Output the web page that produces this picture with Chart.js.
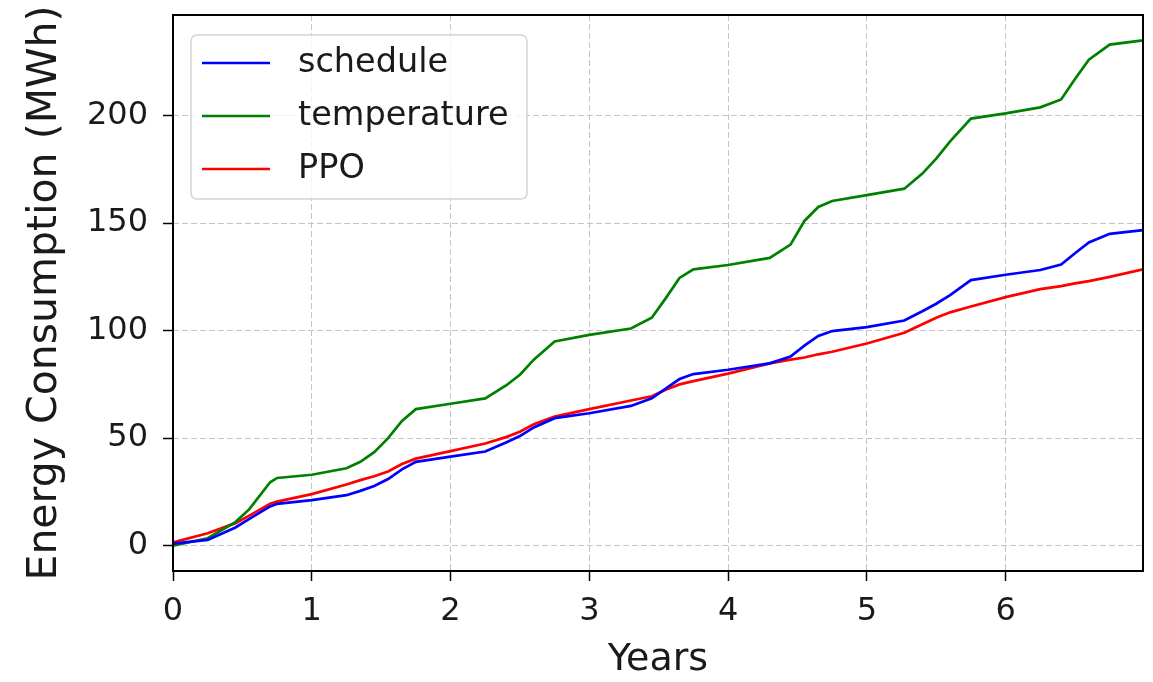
<!DOCTYPE html>
<html>
<head>
<meta charset="utf-8">
<script src="https://cdn.jsdelivr.net/npm/chart.js@4.4.1/dist/chart.umd.min.js"></script>
<style>
  html, body { margin: 0; padding: 0; background: #fff; }
  #energyChart { display: block; }
</style>
</head>
<body>
<canvas id="energyChart" width="1153" height="682"></canvas>
<script>
// years since start (x values shared by all three runs)
const years = [0, 0.25, 0.45, 0.55, 0.7, 0.75,
  1.0, 1.25, 1.35, 1.45, 1.55, 1.65, 1.75,
  2.0, 2.25, 2.4, 2.5, 2.6, 2.75,
  3.0, 3.3, 3.45, 3.55, 3.65, 3.75,
  4.0, 4.3, 4.45, 4.55, 4.65, 4.75,
  5.0, 5.27, 5.4, 5.5, 5.6, 5.75,
  6.0, 6.25, 6.4, 6.5, 6.6, 6.75, 6.99]

// cumulative energy, MWh
const schedule = [1, 2.7, 8.5, 12.5, 18.3, 19.5,
  21.2, 23.5, 25.5, 27.8, 31, 35.5, 39,
  41.4, 43.8, 48, 51, 55, 59.3,
  61.6, 65, 68.5, 73, 77.5, 79.8,
  81.8, 84.8, 88, 93, 97.5, 99.8,
  101.6, 104.7, 109, 112.5, 116.5, 123.5,
  126, 128.2, 130.7, 136, 141, 145, 146.7]

const temperature = [0, 3.5, 11, 17, 29.5, 31.5,
  33, 36, 39, 43.5, 50, 58, 63.5,
  66, 68.5, 74.5, 79.5, 86.5, 95,
  98, 101, 106, 115, 124.5, 128.5,
  130.5, 133.8, 140, 151, 157.5, 160.3,
  163, 166, 173, 180, 188, 198.6,
  201, 203.8, 207.5, 217, 226, 233, 235]

const ppo = [1.5, 5.8, 10.5, 14, 19.5, 20.5,
  24, 28.5, 30.5, 32.3, 34.5, 38, 40.5,
  44, 47.5, 50.5, 53, 56.5, 60,
  63.5, 67.5, 69.5, 72.5, 75, 76.5,
  80, 84.8, 86.5, 87.5, 89, 90.2,
  94, 99, 103, 106, 108.5, 111.2,
  115.6, 119.3, 120.7, 122, 123, 125, 128.5]

const seriesNames = ['schedule', 'temperature', 'PPO']
const seriesColors = ['#0000ff', '#008000', '#ff0000']
const xTicks = [0, 1, 2, 3, 4, 5, 6]
const yTicks = [0, 50, 100, 150, 200]

Chart.defaults.font.family = "'DejaVu Sans', sans-serif"
Chart.defaults.color = '#1a1a1a'

const toPoints = (values) => values.map((v, i) => ({ x: years[i], y: v }))

// black box round the plot area
const frame = {
  id: 'frame',
  afterDatasetsDraw(chart) {
    const { ctx, chartArea } = chart
    ctx.save()
    ctx.strokeStyle = '#000'
    ctx.lineWidth = 2
    ctx.strokeRect(chartArea.left, chartArea.top, chartArea.right - chartArea.left, chartArea.bottom - chartArea.top)
    ctx.restore()
  }
}

// legend inside the plot, top left
const legendBox = {
  id: 'legendBox',
  afterDatasetsDraw(chart) {
    const { ctx, chartArea } = chart
    const left = chartArea.left + 18
    const top = chartArea.top + 20
    ctx.save()
    ctx.beginPath()
    ctx.roundRect(left, top, 336, 164, 6)
    ctx.fillStyle = 'rgba(255,255,255,0.8)'
    ctx.fill()
    ctx.strokeStyle = '#d4d4d4'
    ctx.lineWidth = 1.5
    ctx.stroke()
    chart.data.datasets.forEach((ds, i) => {
      const y = top + 28 + i * 53
      ctx.beginPath()
      ctx.moveTo(left + 11, y)
      ctx.lineTo(left + 79, y)
      ctx.strokeStyle = ds.borderColor
      ctx.lineWidth = 2.6
      ctx.stroke()
      ctx.fillStyle = '#1a1a1a'
      ctx.font = "33.5px 'DejaVu Sans'"
      ctx.textBaseline = 'middle'
      ctx.fillText(ds.label, left + 107, y)
    })
    ctx.restore()
  }
}

const allSeries = [schedule, temperature, ppo]

const noEdgePadding = (s) => {
  s.paddingTop = 0
  s.paddingBottom = 0
  s.paddingLeft = 0
  s.paddingRight = 0
}

new Chart(document.getElementById('energyChart'), {
  type: 'line',
  data: {
    datasets: seriesNames.map((name, i) => ({
      label: name,
      data: toPoints(allSeries[i]),
      borderColor: seriesColors[i],
      borderWidth: 2.7,
      pointRadius: 0,
      tension: 0,
      fill: false
    }))
  },
  options: {
    responsive: false,
    animation: false,
    layout: { padding: { left: 0, right: 10, top: 15, bottom: 0 } },
    plugins: {
      legend: { display: false },
      tooltip: { enabled: false }
    },
    scales: {
      x: {
        type: 'linear',
        min: 0,
        max: 6.99,
        afterBuildTicks: (s) => { s.ticks = xTicks.map(v => ({ value: v })) },
        afterFit: (s) => { s.height = 111; noEdgePadding(s) },
        border: { display: false, dash: [6, 3] },
        grid: { color: '#c4c4c4', lineWidth: 1, tickLength: 10, tickColor: '#000', tickWidth: 1.5, tickBorderDash: [] },
        ticks: { font: { size: 32 }, padding: 11, maxRotation: 0 },
        title: { display: true, text: 'Years', font: { size: 38 }, padding: { top: 0, bottom: -1 } }
      },
      y: {
        type: 'linear',
        min: -11.75,
        max: 246.75,
        afterBuildTicks: (s) => { s.ticks = yTicks.map(v => ({ value: v })) },
        afterFit: (s) => { s.width = 173; noEdgePadding(s) },
        border: { display: false, dash: [6, 3] },
        grid: { color: '#c4c4c4', lineWidth: 1, tickLength: 10, tickColor: '#000', tickWidth: 1.5, tickBorderDash: [] },
        ticks: { font: { size: 32 }, padding: 15 },
        title: { display: true, text: 'Energy Consumption (MWh)', font: { size: 41 }, padding: { top: 21, bottom: 0 } }
      }
    }
  },
  plugins: [frame, legendBox]
})
</script>
</body>
</html>
